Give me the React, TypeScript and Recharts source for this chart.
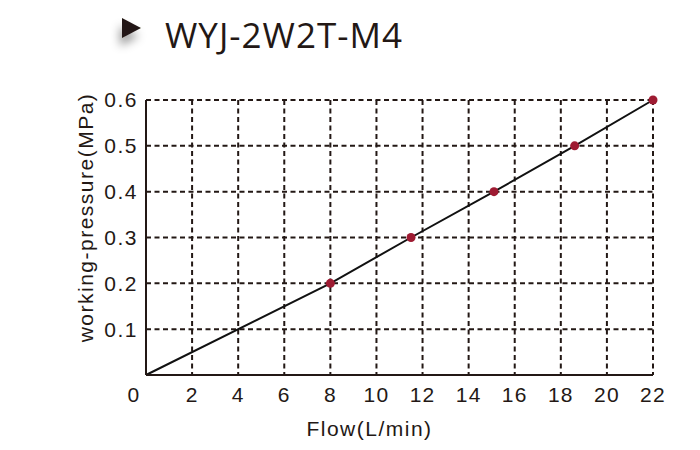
import { LineChart, Line, XAxis, YAxis, CartesianGrid, Label } from 'recharts';

const flow = [0, 8, 11.5, 15.1, 18.6, 22];
const pressure = [0, 0.2, 0.3, 0.4, 0.5, 0.6];
const xTicks = [0, 2, 4, 6, 8, 10, 12, 14, 16, 18, 20, 22];
const yTicks = [0.1, 0.2, 0.3, 0.4, 0.5, 0.6];
const title = 'WYJ-2W2T-M4';
const xLabel = 'Flow(L/min)';
const yLabel = 'working-pressure(MPa)';

const data = flow.map((f, i) => ({ flow: f, pressure: pressure[i] }));

const INK = '#231815';
const FONT = '"Liberation Sans", Arial, sans-serif';

const XTick = ({ x, y, payload }: any) => (
  <text
    x={x}
    y={y}
    dx={payload.value === 0 ? -12 : 0}
    dy="0.71em"
    textAnchor="middle"
    fill={INK}
    fontSize={21}
    letterSpacing={1.2}
    fontFamily={FONT}
  >
    {payload.value}
  </text>
);

const YTick = ({ x, y, payload }: any) => (
  <text
    x={x}
    y={y}
    dy="0.35em"
    textAnchor="end"
    fill={INK}
    fontSize={21}
    letterSpacing={1.5}
    fontFamily={FONT}
  >
    {payload.value.toFixed(1)}
  </text>
);

const XLabel = ({ viewBox }: any) => (
  <text
    x={viewBox.x + viewBox.width / 2 - 30}
    y={viewBox.y + 61}
    textAnchor="middle"
    fill={INK}
    fontSize={21}
    letterSpacing={1.5}
    fontFamily={FONT}
  >
    {xLabel}
  </text>
);

const YLabel = ({ viewBox }: any) => {
  const cx = 93;
  const cy = viewBox.y + viewBox.height / 2 - 20;
  return (
    <text
      x={cx}
      y={cy}
      transform={`rotate(-90, ${cx}, ${cy})`}
      textAnchor="middle"
      fill={INK}
      fontSize={21}
      letterSpacing={1.5}
      fontFamily={FONT}
    >
      {yLabel}
    </text>
  );
};

const Dot = (props: any) => {
  const { cx, cy, index } = props;
  if (index === 0) return <g key={`d${index}`} />;
  return <circle key={`d${index}`} cx={cx} cy={cy} r={4.5} fill="#9e1b32" />;
};

export default function App() {
  return (
    <div style={{ position: 'absolute', left: 0, top: 0, width: 700, height: 450, background: '#fff' }}>
      <svg width={700} height={70} style={{ position: 'absolute', left: 0, top: 0 }}>
        <defs>
          <filter id="sh" x="-150%" y="-150%" width="400%" height="400%">
            <feDropShadow dx={-2} dy={8} stdDeviation={5} floodColor="#000" floodOpacity={0.4} />
          </filter>
        </defs>
        <polygon points="122,18 122,38 141,28" fill={INK} filter="url(#sh)" />
        <text x={165} y={48} fill={INK} fontSize={35} letterSpacing={1} fontFamily='"Open Sans", sans-serif'>
          {title}
        </text>
      </svg>
      <LineChart
        width={700}
        height={450}
        data={data}
        margin={{ top: 100, right: 47, bottom: 0, left: 0 }}
        style={{ position: 'absolute', left: 0, top: 0 }}
      >
        <CartesianGrid stroke={INK} strokeWidth={2} strokeDasharray="5 3.5" />
        <XAxis
          dataKey="flow"
          type="number"
          domain={[0, 22]}
          ticks={xTicks}
          height={75}
          tickSize={0}
          tickMargin={12}
          tickLine={false}
          axisLine={{ stroke: INK, strokeWidth: 2 }}
          tick={<XTick />}
          interval={0}
        >
          <Label content={<XLabel />} />
        </XAxis>
        <XAxis
          xAxisId="top"
          dataKey="flow"
          type="number"
          domain={[0, 22]}
          orientation="top"
          height={0}
          tick={false}
          tickLine={false}
          axisLine={{ stroke: INK, strokeWidth: 2 }}
        />
        <YAxis
          type="number"
          domain={[0, 0.6]}
          ticks={yTicks}
          width={146}
          tickSize={0}
          tickMargin={8}
          tickLine={false}
          axisLine={{ stroke: INK, strokeWidth: 2 }}
          tick={<YTick />}
          interval={0}
        >
          <Label content={<YLabel />} />
        </YAxis>
        <YAxis
          yAxisId="right"
          orientation="right"
          type="number"
          domain={[0, 0.6]}
          width={0}
          tick={false}
          tickLine={false}
          axisLine={{ stroke: INK, strokeWidth: 2 }}
        />
        <Line
          dataKey="pressure"
          type="linear"
          stroke="#111"
          strokeWidth={2}
          dot={Dot}
          activeDot={false}
          isAnimationActive={false}
        />
      </LineChart>
    </div>
  );
}
